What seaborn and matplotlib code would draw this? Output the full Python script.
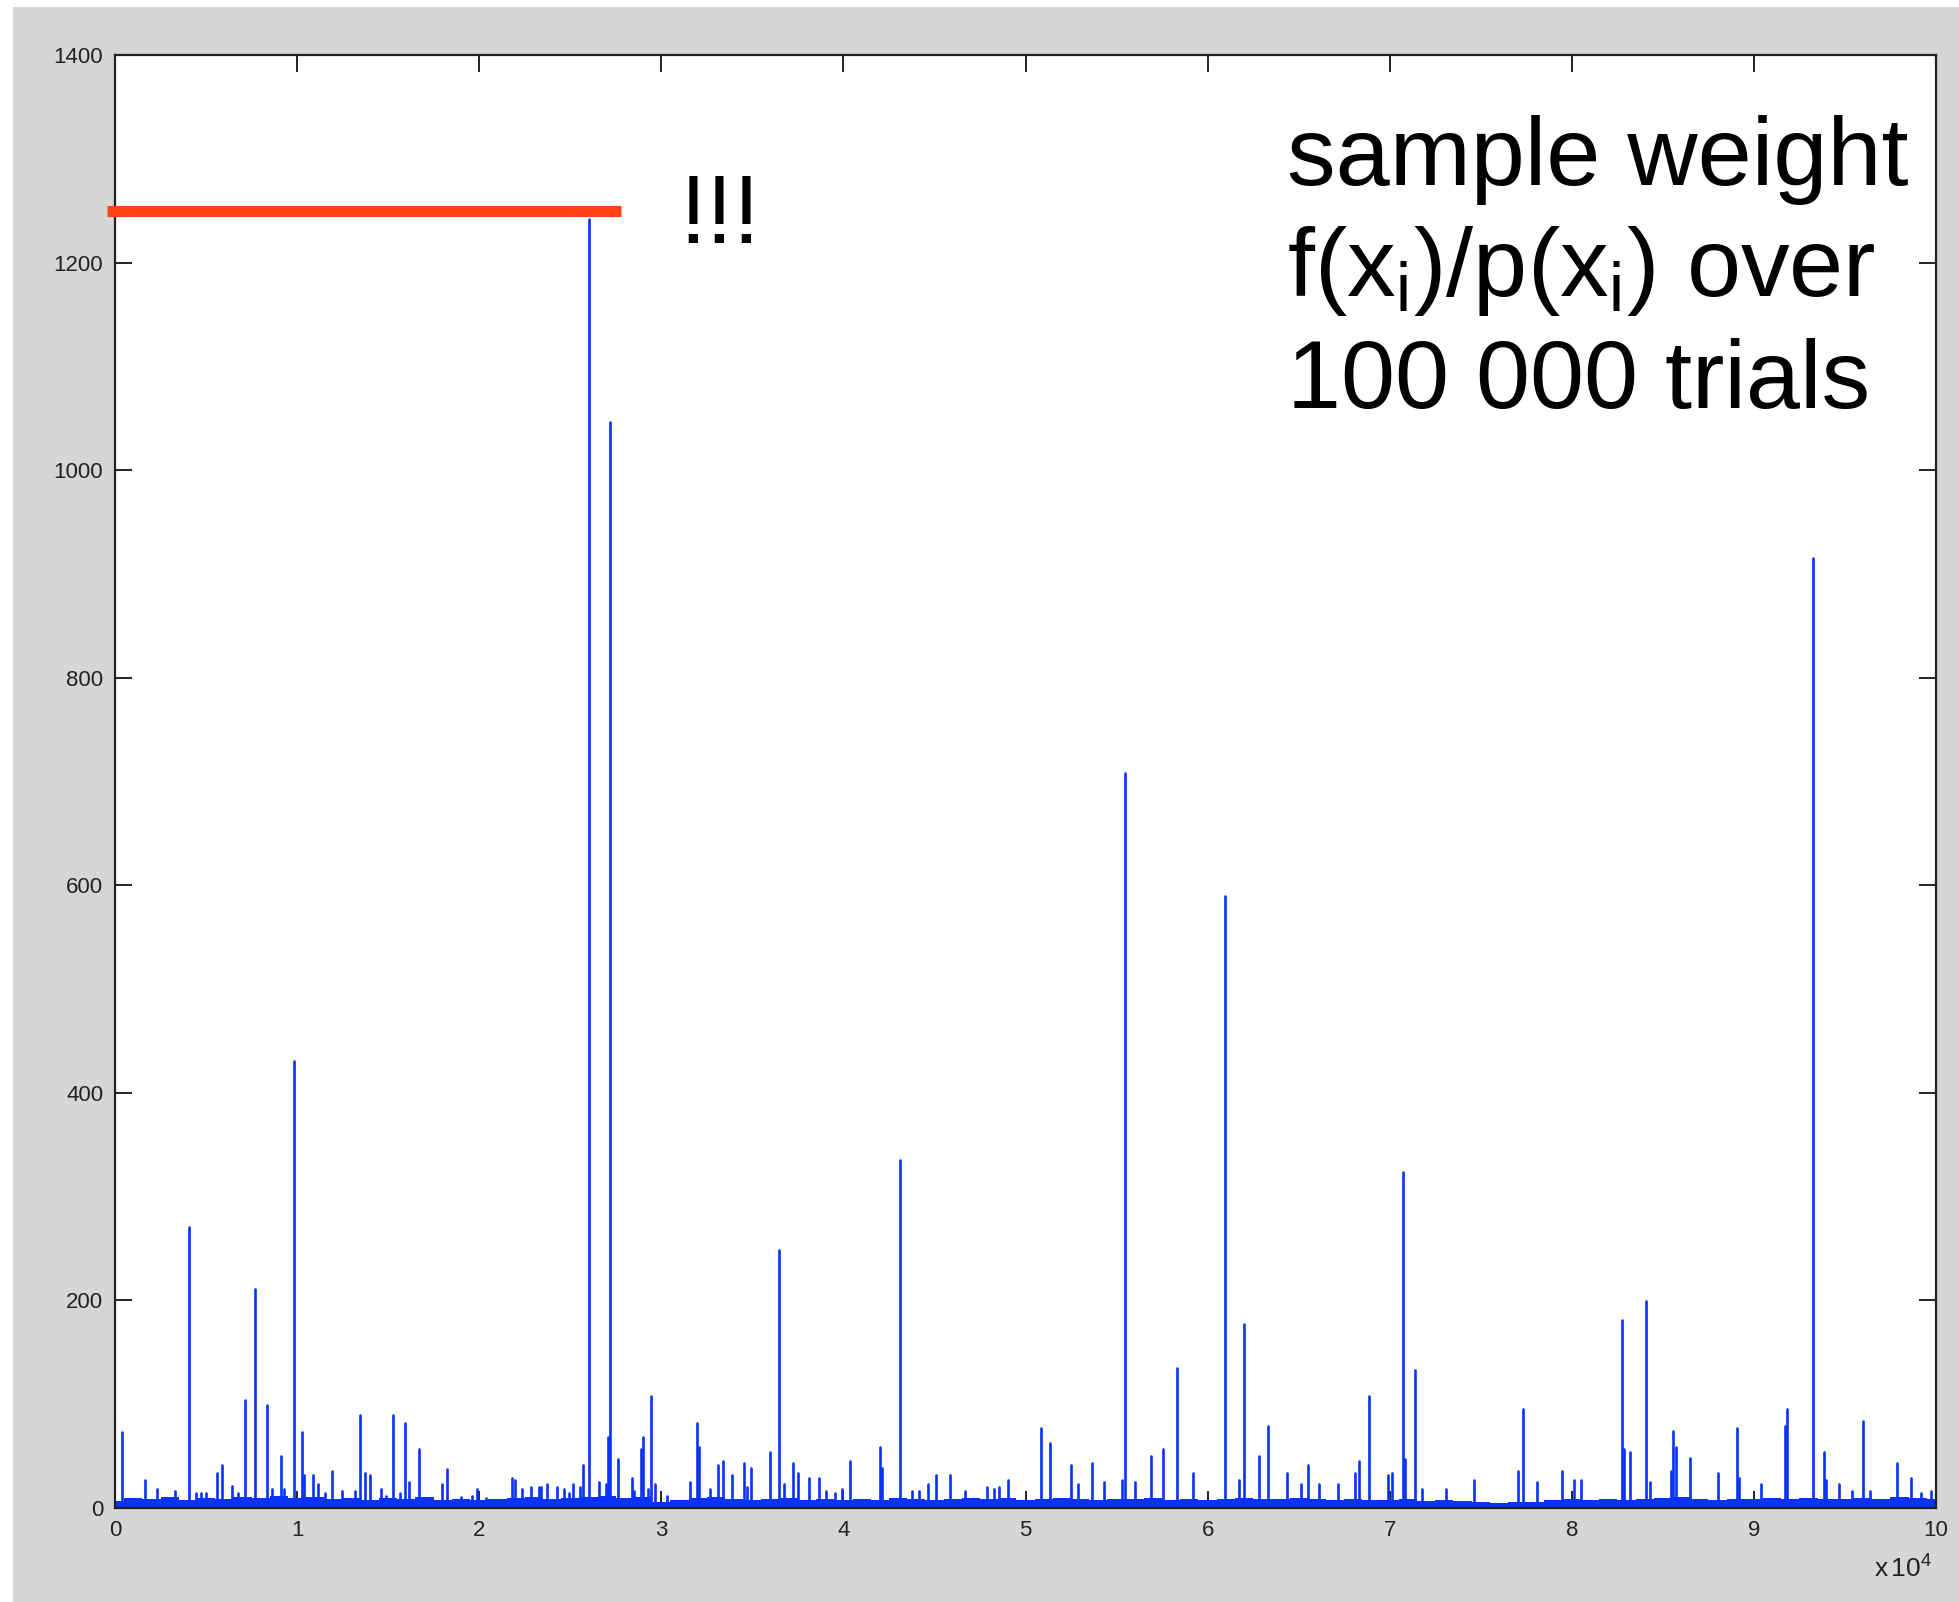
import numpy as np
import pandas as pd
import matplotlib
matplotlib.use("Agg")
import matplotlib.pyplot as plt
from matplotlib.patches import Rectangle
import seaborn as sns

# spikes: trial index and weight f(x)/p(x)
spike_trial = [368, 1650, 2290, 3310, 4050, 4450, 4700, 5000, 5620, 5880,
               6400, 6770, 7160, 7680, 8330, 8600, 9100, 9300, 9850, 10270,
               10380, 10890, 11160, 11530, 11930, 12450, 13200, 13470, 13730, 14000,
               14620, 14880, 15270, 15650, 15910, 16170, 16680, 17040, 17940, 18220,
               19000, 19600, 19900, 20400, 21800, 21950, 22330, 22840, 23260, 23380,
               23740, 24270, 24650, 24950, 25170, 25540, 25680, 26050, 26580, 26960,
               27090, 27200, 27600, 28370, 28500, 28880, 29010, 29290, 29410, 29650,
               30300, 31580, 31960, 32080, 32690, 33110, 33370, 33880, 34540, 34700,
               34930, 35950, 36450, 36740, 37230, 37490, 38130, 38640, 39020, 39530,
               39930, 40340, 41990, 42120, 43130, 43750, 44170, 44660, 45090, 45860,
               46660, 47890, 48280, 48540, 49060, 50850, 51370, 52520, 52900, 53670,
               54320, 55320, 55470, 56000, 56910, 57550, 58300, 59210, 60980, 61740,
               62020, 62800, 63340, 64360, 65110, 65500, 66100, 67180, 68080, 68330,
               68850, 69890, 70150, 70720, 70850, 71400, 71800, 73100, 74650, 77070,
               77320, 78090, 79450, 80100, 80480, 82730, 82880, 83170, 84050, 84300,
               85450, 85580, 85700, 86490, 88020, 89060, 89180, 90400, 91700, 91830,
               93250, 93840, 93950, 94700, 95400, 96000, 96400, 97870, 98640, 99200,
               99700]
spike_weight = [73, 27, 18, 16, 271, 14, 14, 14, 34, 41,
                21, 14, 104, 211, 99, 18, 50, 18, 431, 73,
                32, 32, 23, 14, 36, 16, 16, 90, 34, 32,
                18, 12, 90, 14, 82, 25, 57, 10, 23, 38,
                11, 12, 18, 10, 29, 27, 18, 20, 20, 20,
                23, 20, 18, 14, 23, 20, 41, 1242, 25, 23,
                68, 1046, 47, 29, 16, 57, 68, 18, 108, 23,
                12, 25, 82, 59, 18, 41, 45, 32, 43, 20,
                39, 54, 249, 23, 43, 34, 29, 29, 16, 14,
                18, 45, 59, 39, 335, 16, 16, 23, 32, 32,
                16, 20, 18, 20, 27, 77, 63, 41, 23, 43,
                25, 27, 708, 25, 50, 57, 135, 34, 590, 27,
                177, 50, 79, 34, 23, 41, 23, 23, 34, 45,
                108, 32, 34, 324, 47, 133, 18, 18, 27, 36,
                95, 25, 36, 27, 27, 181, 57, 54, 199, 25,
                36, 74, 59, 48, 34, 77, 29, 23, 79, 95,
                915, 54, 27, 23, 16, 84, 16, 43, 29, 14,
                16]

# level of the dense low "floor" of weights, every 1000 trials
floor_trial = list(range(0, 100001, 1000))
floor_weight = [7, 10, 9, 11, 8, 10, 9, 11, 10, 12,
                10, 11, 9, 10, 8, 10, 9, 11, 8, 9,
                8, 9, 10, 11, 9, 10, 11, 12, 10, 11,
                6, 8, 10, 11, 9, 8, 9, 10, 8, 9,
                8, 9, 8, 10, 9, 8, 9, 10, 9, 10,
                8, 9, 10, 9, 8, 9, 9, 10, 8, 9,
                8, 9, 10, 9, 9, 10, 9, 8, 9, 8,
                8, 9, 7, 8, 7, 6, 5, 6, 6, 8,
                9, 8, 9, 8, 9, 10, 11, 9, 8, 9,
                9, 10, 9, 10, 9, 9, 10, 9, 11, 10,
                9]

yticks = [0, 200, 400, 600, 800, 1000, 1200, 1400]
xticks = [0, 10000, 20000, 30000, 40000, 50000, 60000, 70000, 80000, 90000, 100000]

# red marker line and notes
ref_level = 1250
ref_span = (-440, 27800)
bang_pos = (31000, 1219)
note_lines = ["sample weight",
              r"f(x$_\mathregular{i}$)/p(x$_\mathregular{i}$) over",
              "100 000 trials"]

BLUE = "#0a32ff"
RED = "#ff4115"

sns.set_style("ticks")
plt.rcParams["font.family"] = ["Liberation Sans", "DejaVu Sans"]
plt.rcParams["mathtext.fontset"] = "custom"
plt.rcParams["mathtext.rm"] = "Liberation Sans"
plt.rcParams["mathtext.it"] = "Liberation Sans"

n = len(spike_trial)
df = pd.DataFrame({
    "spike": np.repeat(np.arange(n), 2),
    "trial": np.repeat(spike_trial, 2),
    "weight": np.column_stack([np.zeros(n), spike_weight]).ravel(),
})

fig = plt.figure(figsize=(19.59, 16.02), dpi=100, facecolor="white")
fig.patches.append(Rectangle((13 / 1959, 0), 1, 1 - 7 / 1602, transform=fig.transFigure,
                             facecolor="#d6d6d6", edgecolor="none", zorder=-1))
ax = fig.add_axes([115 / 1959, 94 / 1602, 1821 / 1959, 1453 / 1602])
ax.set_facecolor("white")

ax.fill_between(floor_trial, 0, floor_weight, step="mid", color=BLUE, lw=0)
sns.lineplot(data=df, x="trial", y="weight", units="spike", estimator=None,
             sort=False, color=BLUE, lw=1.9, ax=ax)

ax.plot(ref_span, [ref_level, ref_level], color=RED, lw=8, clip_on=False,
        solid_capstyle="butt", zorder=5)
ax.text(bang_pos[0], bang_pos[1], "!!!", fontsize=70, va="baseline", ha="left",
        color="black")

for i, line in enumerate(note_lines):
    fig.text(1287 / 1959, 1 - (185 + 111.5 * i) / 1602, line, fontsize=70,
             va="baseline", ha="left", color="black")

ax.set_xlim(0, 100000)
ax.set_ylim(0, 1400)
ax.set_xticks(xticks)
ax.set_yticks(yticks)
ax.set_xticklabels([f"{t // 10000}" for t in xticks])
ax.text(0.998, -0.048, r"x$\,\mathregular{10^{4}}$", transform=ax.transAxes,
        ha="right", va="baseline", fontsize=19, color="#222222")
ax.set_xlabel("")
ax.set_ylabel("")
ax.set_axisbelow(True)
ax.tick_params(direction="in", length=12, width=1.4, top=True, right=True,
               labelsize=16, pad=8.5, colors="#222222")
for sp in ax.spines.values():
    sp.set_visible(True)
    sp.set_linewidth(1.6)
    sp.set_color("#222222")

fig.savefig("out.png", dpi=100, facecolor=fig.get_facecolor())
